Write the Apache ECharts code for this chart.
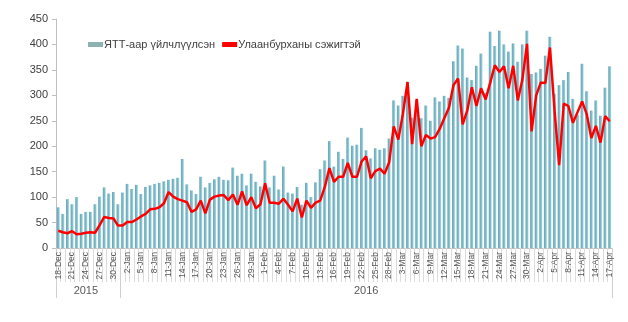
<!DOCTYPE html>
<html>
<head>
<meta charset="utf-8">
<script src="https://cdn.jsdelivr.net/npm/echarts@6/dist/echarts.min.js"></script>
<style>
html,body{margin:0;padding:0;background:#fff;}
#chart{width:628px;height:322px;}
</style>
</head>
<body>
<div id="chart"></div>
<script>
// Month spans of the daily categories (29-Feb is absent in the source axis)
const monthSpans = [['Dec', 18, 31], ['Jan', 1, 31], ['Feb', 1, 28], ['Mar', 1, 31], ['Apr', 1, 17]];
const yearGroups = [['2015', 14], ['2016', 107]];
const seriesNames = ['ЯТТ-аар үйлчлүүлсэн', 'Улаанбурханы сэжигтэй'];

const barValues = [
  80,67,96,86,100,67,71,71,86,101,119,107,110,86,109,126,116,124,106,120,123,126,128,131,134,136,138,175,125,113,106,140,119,128,135,140,
  134,133,158,142,146,123,146,130,121,172,119,142,115,160,109,107,120,
  85,128,100,129,155,172,210,160,189,175,217,201,203,236,192,176,
  196,193,196,215,290,280,299,327,256,290,255,280,250,296,288,299,295,367,
  398,392,335,330,358,382,305,425,397,427,400,386,402,366,400,427,342,
  345,352,378,415,303,320,330,346,293,262,362,308,270,290,260,315,357
];
const lineValues = [
  34,31,29,33,27,28,30,31,30,45,61,59,58,44,44,51,51,56,62,67,76,77,80,88,110,101,96,93,90,71,76,93,68,95,101,103,
  104,94,105,85,111,84,100,78,86,127,89,89,87,97,85,72,
  97,60,93,79,89,93,120,157,130,140,140,167,140,140,170,180,137,
  151,156,146,168,239,213,264,326,204,293,200,222,215,218,234,255,275,320,
  333,243,270,316,279,314,292,325,359,346,357,314,358,290,331,401,229,300,
  325,324,394,270,163,284,279,246,267,288,263,216,240,207,259,249
];

const categories = [];
monthSpans.forEach(([m, a, b]) => { for (let d = a; d <= b; d++) categories.push(d + '-' + m); });

// year group boundaries and centers (category indices)
const yearStarts = [];
const yearCenters = {};
let acc = 0;
yearGroups.forEach(([y, n]) => {
  yearStarts.push(acc);
  yearCenters[Math.floor(acc + (n - 1) / 2)] = y;
  acc += n;
});

const chart = echarts.init(document.getElementById('chart'), null, {renderer: 'canvas'});
const FONT = '"Liberation Sans", Arial, sans-serif';

chart.setOption({
  animation: false,
  backgroundColor: '#ffffff',
  textStyle: {fontFamily: FONT},
  grid: {left: 56, right: 16, top: 19, bottom: 74, containLabel: false},
  legend: {
    left: 83, top: 34,
    itemWidth: 15, itemHeight: 5, itemGap: 7,
    textStyle: {fontSize: 11, color: '#404040', fontFamily: FONT, padding: [0, 0, 0, -4]},
    data: [
      {name: seriesNames[0], icon: 'rect', itemStyle: {color: '#8eb1b1'}},
      {name: seriesNames[1], icon: 'rect', itemStyle: {color: '#ff0000'}}
    ]
  },
  xAxis: [
    {
      type: 'category',
      data: categories,
      position: 'bottom',
      axisLine: {show: true, lineStyle: {color: '#bfbfbf', width: 1}},
      axisTick: {show: true, interval: 0, length: 34, lineStyle: {color: '#dcdcdc', width: 1}},
      axisLabel: {interval: 2, rotate: 90, fontSize: 8.5, color: '#595959', margin: 4, fontFamily: FONT}
    },
    {
      type: 'category',
      data: categories,
      position: 'bottom',
      offset: 0,
      axisLine: {show: false},
      axisTick: {show: true, length: 50, interval: (i) => yearStarts.indexOf(i) >= 0, lineStyle: {color: '#d0d0d0', width: 1}},
      axisLabel: {
        interval: (i) => yearCenters[i] !== undefined,
        formatter: (v, i) => yearCenters[i] || '',
        fontSize: 11, color: '#595959', margin: 37, fontFamily: FONT
      }
    }
  ],
  yAxis: {
    type: 'value',
    min: 0, max: 450, interval: 50,
    axisLine: {show: true, lineStyle: {color: '#bfbfbf'}},
    axisTick: {show: true, length: 4, lineStyle: {color: '#bfbfbf'}},
    splitLine: {show: false},
    axisLabel: {fontSize: 11, color: '#404040', margin: 8, fontFamily: FONT}
  },
  series: [
    {
      name: seriesNames[0],
      type: 'bar',
      data: barValues,
      barCategoryGap: '36%',
      itemStyle: {
        color: new echarts.graphic.LinearGradient(0, 0, 1, 0, [
          {offset: 0, color: '#6ba4b2'},
          {offset: 0.6, color: '#7fbccb'},
          {offset: 1, color: '#aee0ec'}
        ])
      },
      z: 2
    },
    {
      name: seriesNames[1],
      type: 'line',
      data: lineValues,
      showSymbol: false,
      symbol: 'none',
      lineStyle: {color: '#ff0000', width: 2.5},
      itemStyle: {color: '#ff0000'},
      z: 5
    }
  ]
});
</script>
</body>
</html>
